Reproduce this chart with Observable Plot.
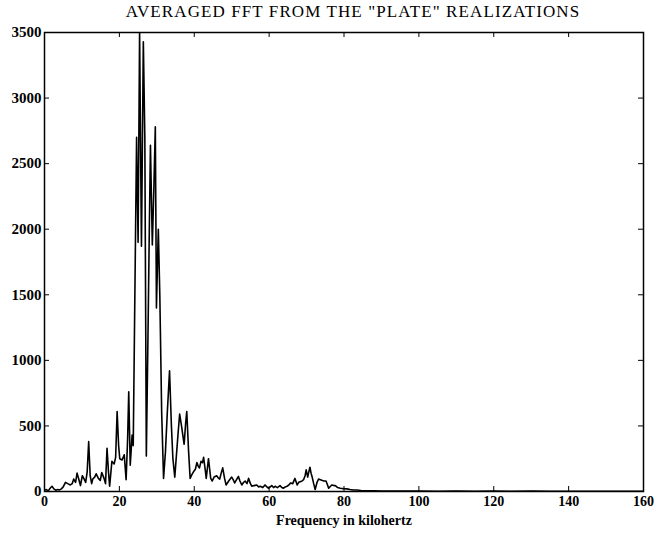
<!DOCTYPE html>
<html>
<head>
<meta charset="utf-8">
<script src="https://cdn.jsdelivr.net/npm/d3@7"></script>
<script src="https://cdn.jsdelivr.net/npm/@observablehq/plot@0.6"></script>
<style>
  body { margin: 0; background: #fff; }
  #title { height: 22px; line-height: 24px; margin-left: 49px; width: 608px; text-align: center;
           font-family: "Liberation Serif", serif; font-size: 17px; letter-spacing: 1.1px; color: #000; white-space: nowrap; }
</style>
</head>
<body>
<div id="title">AVERAGED FFT FROM THE "PLATE" REALIZATIONS</div>
<div id="chart"></div>
<script>
const titleText = 'AVERAGED FFT FROM THE "PLATE" REALIZATIONS';
const xLabel = "Frequency in kilohertz";
const xTicks = [0, 20, 40, 60, 80, 100, 120, 140, 160];
const yTicks = [0, 500, 1000, 1500, 2000, 2500, 3000, 3500];

const freq = [0,0.5,1,1.5,2,2.5,3,3.5,4,4.5,5,5.6,6.2,6.9,7.4,7.8,8.3,8.7,9.2,9.6,10.1,10.5,11,11.4,11.8,12.2,12.6,12.9,13.4,13.8,14.4,14.9,15.3,15.9,16.3,16.7,17.1,17.4,18,18.6,19,19.4,19.8,20.1,20.7,21.3,21.8,22.2,22.5,22.9,23.4,23.7,24.1,24.6,25.0,25.4,25.9,26.4,26.8,27.2,27.6,28.0,28.3,28.8,29.2,29.6,29.9,30.4,30.8,31.3,31.8,32.3,32.8,33.4,33.9,34.3,34.8,35.3,35.7,36.1,36.6,36.9,37.3,37.7,38,38.5,38.9,39.4,39.8,40.3,40.7,41.1,41.4,41.8,42.2,42.5,43,43.2,43.8,44.4,44.8,45.3,46,46.5,46.8,47.2,47.6,48.1,48.5,49.2,50,50.4,50.8,51.3,51.8,52.2,52.7,53.2,53.6,54.1,54.5,55,55.4,56,56.7,57.2,57.6,58.3,58.9,59.4,59.8,60.3,60.7,61.2,61.6,62.2,62.9,63.4,63.8,64.3,64.8,65.3,65.7,66.3,66.9,67.5,67.9,68.3,68.8,69.2,69.6,69.9,70.3,70.6,70.9,71.2,71.5,71.9,72.3,72.8,73.2,73.7,74.1,74.6,75.2,75.6,75.9,76.4,76.8,77.3,77.7,78.3,79,79.8,80.8,81.6,82.5,83.4,84.5,86,88,90,95,100,105,110,115,120,125,130,135,140,150,160];
const amp = [10,15,5,25,40,20,10,15,12,20,35,70,60,50,60,95,70,140,90,45,120,100,70,150,380,120,60,95,110,135,100,85,145,100,60,330,145,40,230,210,260,610,350,250,240,280,90,400,760,200,430,350,1400,2700,1900,3500,1870,3430,2700,270,1100,2000,2640,1880,2300,2780,1400,2000,1500,600,100,300,600,920,500,250,110,300,450,590,500,440,360,520,610,300,100,130,150,170,220,190,180,230,220,260,150,100,250,100,80,110,120,100,95,140,180,100,50,80,110,90,65,90,115,80,50,70,80,60,100,60,40,45,50,35,40,30,50,35,25,35,45,30,40,30,45,30,25,35,40,50,65,60,100,50,70,75,80,90,120,165,110,150,185,140,110,60,15,70,95,90,85,80,80,50,25,40,50,45,45,30,25,22,20,15,12,12,8,6,5,4,3,3,2,3,2,3,2,3,2,1,1,1];

const data = freq.map((f, i) => ({f, a: amp[i]}));
const xDomain = [xTicks[0], xTicks[xTicks.length - 1]];
const yDomain = [yTicks[0], yTicks[yTicks.length - 1]];
const fmt = d3.format("d");

const chart = Plot.plot({
  width: 657,
  height: 513,
  marginTop: 10,
  marginLeft: 44,
  marginRight: 14,
  marginBottom: 44,
  style: {fontFamily: "Liberation Serif, serif", fontSize: "14px", background: "white", color: "black"},
  x: {domain: xDomain},
  y: {domain: yDomain},
  marks: [
    Plot.line(data, {x: "f", y: "a", stroke: "black", strokeWidth: 1.6, clip: true}),
    Plot.frame({stroke: "black", strokeWidth: 1.5}),
    Plot.ruleX(xTicks, {x: d => d, y1: yDomain[0], y2: yDomain[0], insetTop: -5, stroke: "black"}),
    Plot.ruleX(xTicks, {x: d => d, y1: yDomain[1], y2: yDomain[1], insetBottom: -5, stroke: "black"}),
    Plot.ruleY(yTicks, {y: d => d, x1: xDomain[0], x2: xDomain[0], insetRight: -5, stroke: "black"}),
    Plot.ruleY(yTicks, {y: d => d, x1: xDomain[1], x2: xDomain[1], insetLeft: -5, stroke: "black"}),
    Plot.axisX({ticks: xTicks, tickFormat: fmt, tickSize: 0, tickPadding: 5, label: null, fontSize: 14, fontWeight: "bold"}),
    Plot.axisY({ticks: yTicks, tickFormat: fmt, tickSize: 0, tickPadding: 3, label: null, fontSize: 15, fontWeight: "bold"}),
    Plot.text([xLabel], {frameAnchor: "bottom", dy: 29, lineAnchor: "middle", fontSize: 14, fontWeight: "bold"})
  ]
});
document.getElementById("chart").appendChild(chart);
</script>
</body>
</html>
